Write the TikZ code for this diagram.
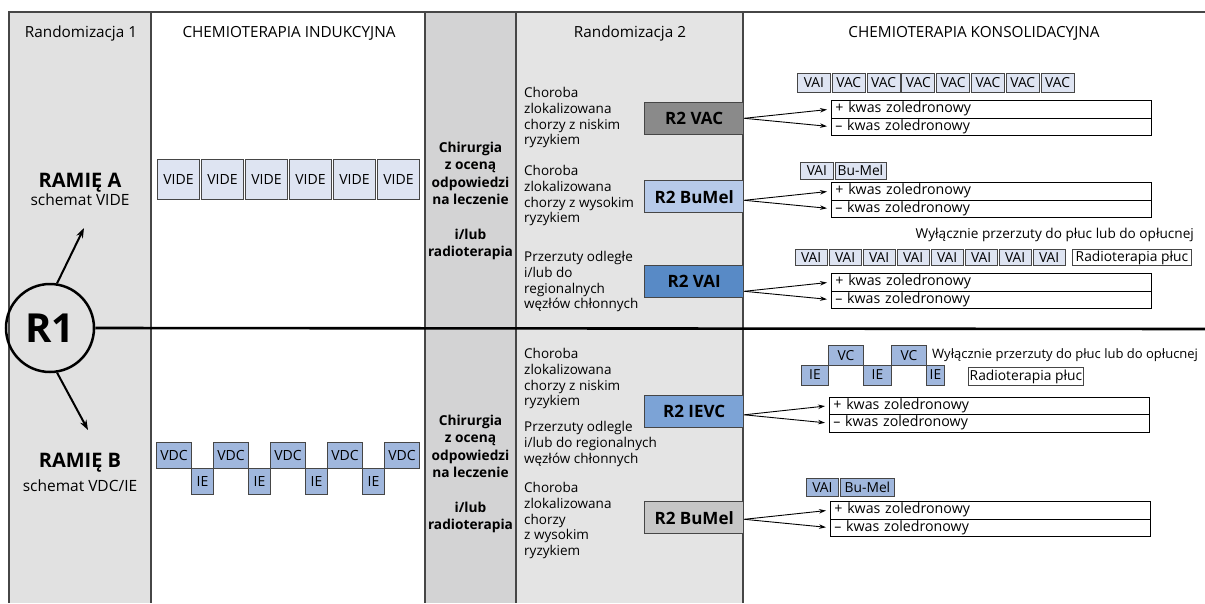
\documentclass[tikz,border=0pt]{standalone}
\usepackage{fontspec}
\setmainfont{Open Sans}
\usetikzlibrary{arrows.meta}
\definecolor{gA}{RGB}{225,225,225}
\definecolor{gB}{RGB}{211,211,212}
\definecolor{gC}{RGB}{228,228,228}
\definecolor{lav}{RGB}{222,228,242}
\definecolor{mblue}{RGB}{160,183,221}
\definecolor{dblue}{RGB}{88,138,198}
\definecolor{lblue}{RGB}{183,202,233}
\definecolor{ievc}{RGB}{124,163,214}
\definecolor{dgray}{RGB}{138,138,138}
\definecolor{lgray}{RGB}{198,198,198}
\definecolor{edge}{RGB}{70,70,70}
\tikzset{
  hdr/.style={font=\fontsize{15.3}{17}\selectfont},
  armtitle/.style={font=\bfseries\fontsize{20}{22}\selectfont},
  armsub/.style={font=\fontsize{15.5}{18}\selectfont},
  surg/.style={anchor=north, align=center, inner sep=0pt, font=\bfseries\fontsize{13.7}{17.5}\selectfont},
  grp/.style={anchor=north west, align=left, inner sep=0pt, font=\fontsize{13.5}{15.8}\selectfont},
  drug/.style 2 args={draw=edge, line width=0.9pt, inner sep=0pt, anchor=north west,
     minimum width=#1, minimum height=#2, font=\fontsize{13.8}{15}\selectfont},
  rtbox/.style={draw=edge, line width=0.9pt, inner sep=0pt, anchor=north west, fill=white,
     minimum height=#1, font=\fontsize{13.8}{15}\selectfont},
  r2box/.style={draw=edge, line width=1.3pt, inner sep=0pt, anchor=north west,
     minimum width=99pt, minimum height=32pt, font=\bfseries\fontsize{17}{20}\selectfont},
  kw/.style={draw=black, line width=0.8pt, inner xsep=4pt, inner ysep=0pt, anchor=north west,
     text width=312pt, align=left, minimum height=17.5pt, font=\fontsize{14.2}{15}\selectfont},
  arr/.style={line width=0.9pt, -{Stealth[length=7pt,width=4.5pt]}, shorten >=4pt},
  bigarr/.style={line width=2pt, -{Stealth[length=10pt,width=7pt]}},
  colline/.style={draw=edge, line width=1.3pt},
}
\begin{document}
\begin{tikzpicture}[x=1pt,y=-1pt]
\useasboundingbox (0,0) rectangle (1205,603);
% columns
\fill[gA] (9,12) rectangle (151,603);
\fill[gB] (425,12) rectangle (516,603);
\fill[gC] (516,12) rectangle (743,603);
\draw[colline] (1205,12) -- (9,12) -- (9,603);
\draw[colline] (151,12) -- (151,603);
\draw[colline] (425,12) -- (425,603);
\draw[colline] (516,12) -- (516,603);
\draw[colline] (743,12) -- (743,603);
% headers
\node[hdr, anchor=base] (h1) at (81,37) {Randomizacja 1};
\node[hdr, anchor=base] (h2) at (289,37) {CHEMIOTERAPIA INDUKCYJNA};
\node[hdr, anchor=base] (h4) at (630,37) {Randomizacja 2};
\node[hdr, anchor=base] (h5) at (974,37) {CHEMIOTERAPIA KONSOLIDACYJNA};
% R1
\node[circle, draw, line width=2.5pt, minimum size=88pt, inner sep=0pt,
      font=\bfseries\fontsize{40}{40}\selectfont] (r1) at (50,328) {R1};
\coordinate (mr) at (1205,329);
\draw[line width=2.6pt] (r1.east) -- (mr);
\coordinate (ra) at (84,228);
\coordinate (rb) at (88,430);
\draw[bigarr] (r1.81) -- (ra);
\draw[bigarr] (r1.-81) -- (rb);
\node[armtitle, anchor=base] (armA) at (80,187) {RAMIĘ A};
\node[armsub, anchor=base] (armAs) at (80,205) {schemat VIDE};
\node[armtitle, anchor=base] (armB) at (80,467) {RAMIĘ B};
\node[armsub, anchor=base] (armBs) at (80,491) {schemat VDC/IE};
% induction A
\foreach \i in {0,...,5} {
  \node[drug={42pt}{40pt}, fill=lav, font=\fontsize{14}{15}\selectfont] (vide\i) at ({157+44*\i},159) {VIDE};
}
% induction B
\foreach \i in {0,...,4} {
  \node[drug={35pt}{26pt}, fill=mblue, font=\fontsize{14}{15}\selectfont] (vdc\i) at ({156+57*\i},442) {VDC};
}
\foreach \i in {0,...,3} {
  \node[drug={22pt}{26pt}, fill=mblue, font=\fontsize{14}{15}\selectfont] (ie\i) at ({191+57*\i},468) {IE};
}
% surgery column
\node[surg] (surgA) at (470.5,141.5) {Chirurgia\\z oceną\\odpowiedzi\\na leczenie\\[17pt]i/lub\\radioterapia};
\node[surg] (surgB) at (470.5,414.5) {Chirurgia\\z oceną\\odpowiedzi\\na leczenie\\[17pt]i/lub\\radioterapia};
% R2 column text
\node[grp] (g1) at (524,87) {Choroba\\zlokalizowana\\chorzy z niskim\\ryzykiem};
\node[grp] (g2) at (524,165) {Choroba\\zlokalizowana\\chorzy z wysokim\\ryzykiem};
\node[grp] (g3) at (524,251) {Przerzuty odległe\\i/lub do\\regionalnych\\węzłów chłonnych};
\node[grp] (g4) at (524,348) {Choroba\\zlokalizowana\\chorzy z niskim\\ryzykiem};
\node[grp] (g5) at (524,421) {Przerzuty odlegle\\i/lub do regionalnych\\węzłów chłonnych};
\node[grp] (g6) at (524,482) {Choroba\\zlokalizowana\\chorzy\\z wysokim\\ryzykiem};
% R2 boxes
\node[r2box, fill=dgray] (r2a) at (644,102) {R2 VAC};
\node[r2box, fill=lblue] (r2b) at (644,180) {R2 BuMel};
\node[r2box, fill=dblue] (r2c) at (644,265) {R2 VAI};
\node[r2box, fill=ievc] (r2d) at (644,395) {R2 IEVC};
\node[r2box, fill=lgray] (r2e) at (644,501) {R2 BuMel};
% consolidation 1
\node[drug={33pt}{19pt}, fill=lav] (c1b0) at (797,73) {VAI};
\foreach \i in {1,...,7} {
  \node[drug={33pt}{19pt}, fill=lav] (c1b\i) at ({797+34.8*\i},73) {VAC};
}
\node[kw] (k1p) at (831,100) {+ kwas zoledronowy};
\node[kw] (k1m) at (831,117.5) {– kwas zoledronowy};
\draw[arr] (r2a.east |- k1p.south) -- (k1p.west);
\draw[arr] (r2a.east |- k1p.south) -- (k1m.west);
% consolidation 2
\node[drug={33pt}{16.5pt}, fill=lav] (c2b0) at (800,162) {VAI};
\node[drug={51pt}{16.5pt}, fill=lav] (c2b1) at (834.5,162) {Bu-Mel};
\node[kw] (k2p) at (831,182) {+ kwas zoledronowy};
\node[kw] (k2m) at (831,199.5) {– kwas zoledronowy};
\draw[arr] (r2b.east |- k2p.south) -- (k2p.west);
\draw[arr] (r2b.east |- k2p.south) -- (k2m.west);
% consolidation 3
\node[font=\fontsize{13.6}{15}\selectfont, anchor=base east, inner sep=0pt] (w1) at (1194,238) {Wyłącznie przerzuty do płuc lub do opłucnej};
\foreach \i in {0,...,7} {
  \node[drug={31.5pt}{16pt}, fill=lav] (c3b\i) at ({795+34*\i},249) {VAI};
}
\node[rtbox=16pt, minimum width=119pt] (rt1) at (1072,249) {Radioterapia  płuc};
\node[kw] (k3p) at (831,273) {+ kwas zoledronowy};
\node[kw] (k3m) at (831,290.5) {– kwas zoledronowy};
\draw[arr] (r2c.east |- k3p.south) -- (k3p.west);
\draw[arr] (r2c.east |- k3p.south) -- (k3m.west);
% consolidation 4
\node[drug={35pt}{19.5pt}, fill=mblue] (vc0) at (828,345) {VC};
\node[drug={35pt}{19.5pt}, fill=mblue] (vc1) at (891,345) {VC};
\node[drug={27pt}{20pt}, fill=mblue] (ie4) at (801,364.5) {IE};
\node[drug={28pt}{20pt}, fill=mblue] (ie5) at (863,364.5) {IE};
\node[drug={18pt}{20pt}, fill=mblue] (ie6) at (926,364.5) {IE};
\node[font=\fontsize{13}{14}\selectfont, anchor=base west, inner sep=0pt] (w2) at (932,358) {Wyłącznie przerzuty do płuc lub do opłucnej};
\node[rtbox=18pt, minimum width=115pt] (rt2) at (968,367) {Radioterapia  płuc};
\node[kw] (k4p) at (829,396.5) {+ kwas zoledronowy};
\node[kw] (k4m) at (829,414) {– kwas zoledronowy};
\draw[arr] (r2d.east |- k4p.south) -- (k4p.west);
\draw[arr] (r2d.east |- k4p.south) -- (k4m.west);
% consolidation 5
\node[drug={32pt}{18pt}, fill=mblue] (c5b0) at (806,478) {VAI};
\node[drug={54pt}{18pt}, fill=mblue] (c5b1) at (840,478) {Bu-Mel};
\node[kw] (k5p) at (830,501) {+ kwas zoledronowy};
\node[kw] (k5m) at (830,518.5) {– kwas zoledronowy};
\draw[arr] (r2e.east |- k5p.south) -- (k5p.west);
\draw[arr] (r2e.east |- k5p.south) -- (k5m.west);
\end{tikzpicture}
\end{document}
